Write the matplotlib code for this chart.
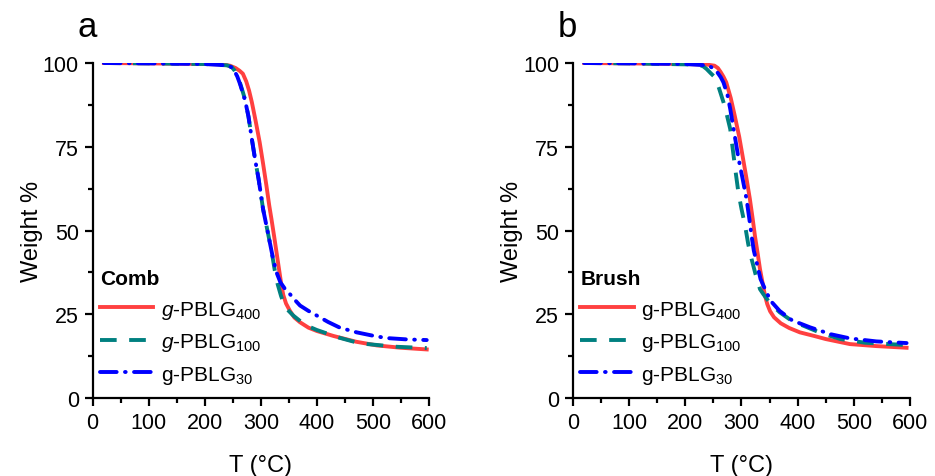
import matplotlib
matplotlib.use("Agg")
import matplotlib.pyplot as plt
from matplotlib.ticker import MultipleLocator

plt.rcParams['font.family'] = ['Liberation Sans', 'DejaVu Sans']
plt.rcParams['mathtext.fontset'] = 'custom'
plt.rcParams['mathtext.rm'] = 'Liberation Sans'
plt.rcParams['mathtext.it'] = 'Liberation Sans:italic'
plt.rcParams['mathtext.bf'] = 'Liberation Sans:bold'
plt.rcParams['lines.scale_dashes'] = False

# ---- Panel a (Comb) ----
a_red_T = [20, 100, 200, 230, 245, 255, 262, 268, 274, 279, 284, 291, 298, 304, 310, 315, 319, 324, 328, 332, 336, 340, 345, 352, 360, 370, 385, 400, 430, 470, 507, 550, 596]
a_red_W = [100, 99.9, 99.7, 99.6, 99.2, 98.5, 97.7, 96.8, 94.5, 91.8, 88.3, 82.5, 76.3, 70, 63.4, 57.5, 53.4, 48, 43.5, 39, 34.5, 30.8, 28.2, 26.0, 24.0, 22.6, 21.0, 20.0, 18.5, 16.8, 15.7, 15.0, 14.5]
a_grn_T = [20, 100, 200, 240, 248, 253, 258, 263, 268, 272, 278, 284, 290, 296, 304, 310, 316, 321, 325, 330, 336, 340, 348, 358, 379, 400, 440, 477, 542, 596]
a_grn_W = [100, 99.9, 99.7, 99.3, 98.8, 97.8, 96.3, 94, 91.3, 89, 84, 77.3, 71, 65.4, 56.4, 51.5, 46.5, 42, 38, 34, 30.5, 28.6, 26.3, 24.6, 21.8, 20.3, 18.0, 16.3, 15.3, 14.9]
a_blu_T = [20, 100, 200, 240, 248, 253, 258, 263, 268, 272, 278, 284, 290, 296, 304, 310, 316, 322, 328, 335, 343, 352, 360, 370, 385, 400, 420, 441, 471, 500, 524, 560, 596]
a_blu_W = [100, 99.9, 99.7, 99.3, 98.7, 97.6, 96.0, 93.7, 91.0, 88.8, 84, 77.3, 71, 65.4, 56.4, 51.5, 46.5, 41.5, 37.5, 34.5, 32.6, 31, 29.4, 27.6, 26.0, 24.6, 22.7, 21.0, 19.6, 18.6, 17.9, 17.5, 17.3]

# ---- Panel b (Brush) ----
b_red_T = [20, 100, 200, 240, 252, 258, 263, 268, 273, 281, 288, 296, 303, 309, 315, 320, 324, 329, 333, 338, 342, 346, 351, 358, 370, 385, 404, 430, 450, 493, 540, 594]
b_red_W = [100, 99.9, 99.7, 99.5, 99.2, 98.5, 97.3, 95.9, 94.2, 89.5, 84.3, 78, 71.3, 65.5, 59.4, 53.5, 48.4, 43, 38.5, 34, 30.5, 28, 25.9, 24.1, 22.3, 20.9, 19.6, 18.5, 17.6, 16.1, 15.5, 15.0]
b_grn_T = [20, 100, 200, 225, 232, 238, 245, 253, 260, 268, 274, 280, 286, 290, 294.5, 300, 306.5, 312, 318, 325, 333, 339, 350, 368, 390, 410, 440, 476, 520, 594]
b_grn_W = [100, 99.9, 99.6, 99.4, 99.0, 98.2, 97, 95.7, 92.5, 88.3, 84.5, 80.3, 72.3, 67, 61.4, 56.5, 51.4, 46, 41.5, 37, 32.5, 31, 28.5, 25.6, 23, 21.6, 19.5, 17.6, 16.5, 15.8]
b_blu_T = [20, 100, 200, 240, 247, 253, 258, 263, 268, 275, 280, 286, 295, 302, 309, 314, 318, 322, 327, 334, 342, 352, 368, 390, 422, 460, 493, 540, 594]
b_blu_W = [100, 99.9, 99.7, 99.3, 98.7, 98.0, 97.0, 95.8, 94.2, 90.5, 86.3, 80.3, 71.3, 65.5, 59.4, 53.5, 48.4, 44, 40.5, 35.5, 32.5, 29, 26, 23.2, 21.1, 19, 17.8, 16.9, 16.4]

labels_a = [r'$g$-PBLG$_{400}$', r'$g$-PBLG$_{100}$', r'g-PBLG$_{30}$']
labels_b = [r'g-PBLG$_{400}$', r'g-PBLG$_{100}$', r'g-PBLG$_{30}$']
titles = ['Comb', 'Brush']
letters = ['a', 'b']

RED = '#FF4040'
TEAL = '#008080'
BLUE = '#0000FF'
LW = 2.8

fig = plt.figure(figsize=(9.35, 4.77), dpi=100)
ax_a = fig.add_axes([0.0991, 0.1635, 0.3597, 0.7023])
ax_b = fig.add_axes([0.6128, 0.1635, 0.3604, 0.7023])

panels = [
    (ax_a, (a_red_T, a_red_W), (a_grn_T, a_grn_W), (a_blu_T, a_blu_W), labels_a),
    (ax_b, (b_red_T, b_red_W), (b_grn_T, b_grn_W), (b_blu_T, b_blu_W), labels_b),
]

for i, (ax, r, g, b, labs) in enumerate(panels):
    ax.plot(r[0], r[1], color=RED, lw=LW, label=labs[0], solid_joinstyle='round')
    ax.plot(g[0], g[1], color=TEAL, lw=LW, label=labs[1], dashes=(12, 9), dash_capstyle='butt')
    ax.plot(b[0], b[1], color=BLUE, lw=LW, label=labs[2], dashes=(12, 6, 0.5, 6), dash_capstyle='round')
    ax.set_xlim(0, 600)
    ax.set_ylim(0, 100)
    ax.xaxis.set_major_locator(MultipleLocator(100))
    ax.xaxis.set_minor_locator(MultipleLocator(50))
    ax.yaxis.set_major_locator(MultipleLocator(25))
    ax.yaxis.set_minor_locator(MultipleLocator(12.5))
    for s in ['top', 'right']:
        ax.spines[s].set_visible(False)
    for s in ['left', 'bottom']:
        ax.spines[s].set_linewidth(1.6)
    ax.tick_params(which='major', direction='out', length=6, width=1.6, labelsize=15.5, pad=4)
    ax.tick_params(which='minor', direction='out', length=3.5, width=1.6)
    ax.set_xlabel('T (°C)', fontsize=17, labelpad=15)
    ax.set_ylabel('Weight %', fontsize=17, labelpad=0)
    leg = ax.legend(loc='lower left', bbox_to_anchor=(-0.015, 0.0), frameon=False,
                    fontsize=15, title=titles[i],
                    title_fontproperties={'weight': 'bold', 'size': 15},
                    alignment='left', handlelength=2.55, handletextpad=0.37,
                    labelspacing=0.5, borderaxespad=0.0, borderpad=0.6)
    ax.text(-0.045, 1.06, letters[i], transform=ax.transAxes, fontsize=25,
            ha='left', va='bottom')

fig.savefig('out.png', dpi=100)
